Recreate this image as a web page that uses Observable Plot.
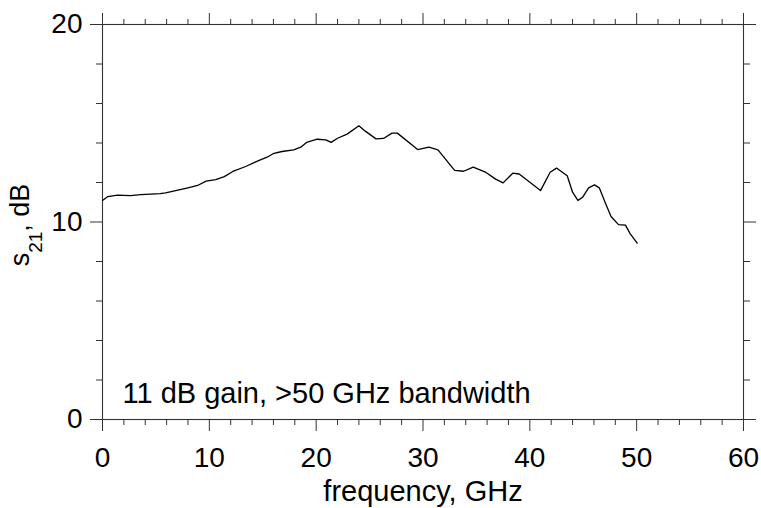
<!DOCTYPE html>
<html>
<head>
<meta charset="utf-8">
<script src="https://cdn.jsdelivr.net/npm/d3@7"></script>
<script src="https://cdn.jsdelivr.net/npm/@observablehq/plot@0.6"></script>
<style>
  html, body { margin: 0; padding: 0; background: #fff; }
  svg { display: block; }
</style>
</head>
<body>
<div id="chart"></div>
<script>
// frequency (GHz) and s21 (dB)
const freq = [0,0.5,1.4,2.6,3.6,5.4,5.9,8.0,8.9,9.7,10.6,11.4,12.2,13.4,14.5,15.4,16.05,16.8,17.9,18.55,19.1,20.1,20.9,21.4,22.0,22.9,24.0,24.6,25.6,26.3,27.1,27.6,29.5,30.55,31.4,32.96,33.8,34.7,35.9,36.8,37.5,38.4,39.0,41.0,41.9,42.5,43.5,44.0,44.5,44.95,45.5,46.05,46.5,47.1,47.6,48.3,48.95,49.4,50.05];
const s21 = [11.09,11.29,11.36,11.34,11.39,11.44,11.47,11.73,11.85,12.07,12.15,12.3,12.56,12.81,13.08,13.28,13.48,13.57,13.65,13.79,14.03,14.19,14.16,14.03,14.24,14.45,14.87,14.6,14.21,14.23,14.5,14.5,13.67,13.79,13.65,12.61,12.57,12.78,12.51,12.17,11.98,12.47,12.43,11.59,12.52,12.73,12.34,11.51,11.09,11.26,11.73,11.88,11.73,10.92,10.28,9.87,9.84,9.4,8.93];
const xMajorTicks = [0,10,20,30,40,50,60];
const xMinorTicks = [2,4,6,8,12,14,16,18,22,24,26,28,32,34,36,38,42,44,46,48,52,54,56,58];
const yMajorTicks = [0,10,20];
const yMinorTicks = [2,4,6,8,12,14,16,18];
const xTitle = "frequency, GHz";
const annotation = ["11 dB gain, >50 GHz bandwidth"];
const annotationPos = {x: 1.87, y: 0.83};

const data = freq.map((f, i) => ({f, v: s21[i]}));
const FONT = "'Liberation Sans', Arial, Helvetica, sans-serif";
const AX = "#333";

const chart = Plot.plot({
  width: 761,
  height: 508,
  marginLeft: 102,
  marginRight: 18,
  marginTop: 24,
  marginBottom: 89,
  style: {fontFamily: FONT, fontSize: "28px", background: "#fff", color: "#000"},
  x: {domain: [0, 60]},
  y: {domain: [0, 20]},
  marks: [
    Plot.frame({stroke: AX, strokeWidth: 1.1}),
    // bottom axis
    Plot.axisX({anchor: "bottom", ticks: xMajorTicks, tickSize: 12, tickPadding: 16, fontSize: 28, label: null, stroke: AX, fill: "#000"}),
    Plot.axisX({anchor: "bottom", ticks: xMinorTicks, tickSize: 6, tickFormat: () => "", label: null, stroke: AX}),
    // top axis
    Plot.axisX({anchor: "top", ticks: xMajorTicks, tickSize: 12, tickFormat: () => "", label: null, stroke: AX}),
    Plot.axisX({anchor: "top", ticks: xMinorTicks, tickSize: 6, tickFormat: () => "", label: null, stroke: AX}),
    // left axis
    Plot.axisY({anchor: "left", ticks: yMajorTicks, tickSize: 12, tickPadding: 8, fontSize: 28, label: null, stroke: AX, fill: "#000"}),
    Plot.axisY({anchor: "left", ticks: yMinorTicks, tickSize: 6, tickFormat: () => "", label: null, stroke: AX}),
    // right axis
    Plot.axisY({anchor: "right", ticks: yMajorTicks, tickSize: 12, tickFormat: () => "", label: null, stroke: AX}),
    Plot.axisY({anchor: "right", ticks: yMinorTicks, tickSize: 6, tickFormat: () => "", label: null, stroke: AX}),
    Plot.line(data, {x: "f", y: "v", stroke: "#000", strokeWidth: 1.3}),
    Plot.text(annotation, {x: () => annotationPos.x, y: () => annotationPos.y, text: d => d, textAnchor: "start", lineAnchor: "bottom", fontSize: 29, fill: "#000"}),
    Plot.text([xTitle], {x: () => 30, y: () => 0, text: d => d, dy: 81, lineAnchor: "bottom", fontSize: 29, fill: "#000"})
  ]
});

// y-axis title with a real subscript
const svg = d3.select(chart);
const t = svg.append("text")
  .attr("transform", "translate(28.5,225) rotate(-90)")
  .attr("text-anchor", "middle")
  .attr("font-family", FONT)
  .attr("font-size", 27)
  .attr("fill", "#000");
t.append("tspan").text("s");
t.append("tspan").attr("font-size", 19).attr("dy", 13).text("21");
t.append("tspan").attr("dy", -13).text(", dB");

document.getElementById("chart").appendChild(chart);
</script>
</body>
</html>
